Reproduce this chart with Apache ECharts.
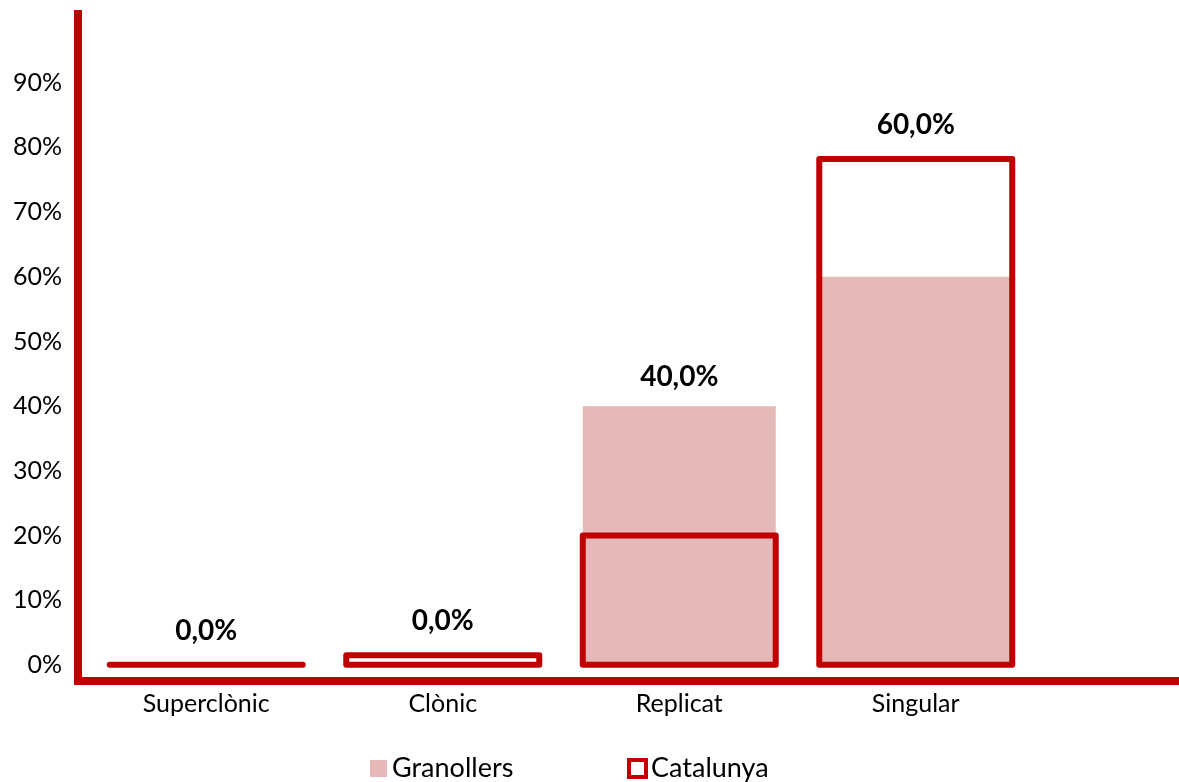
<!DOCTYPE html>
<html>
<head>
<meta charset="utf-8">
<script src="https://cdn.jsdelivr.net/npm/echarts@6/dist/echarts.min.js"></script>
<style>
html,body{margin:0;padding:0;background:#fff;}
#chart{width:1179px;height:782px;}
</style>
</head>
<body>
<div id="chart"></div>
<script>
const categories = ['Superclònic', 'Clònic', 'Replicat', 'Singular'];
const granollers = [0, 0, 40, 60];
const catalunya = [0, 1.5, 20, 78.2];
const yTicks = [0, 10, 20, 30, 40, 50, 60, 70, 80, 90];

const RED = '#C00000';
const PINK = '#E6B8B7';
const FONT = 'Lato';
const BAR_FRACTION = 0.816;

const labelTops = categories.map((c, i) => Math.max(granollers[i], catalunya[i]));
const fmt = v => v.toFixed(1).replace('.', ',') + '%';

const chart = echarts.init(document.getElementById('chart'), null, {renderer: 'canvas'});
chart.setOption({
  animation: false,
  backgroundColor: '#fff',
  textStyle: {fontFamily: FONT},
  grid: [
    {left: 88, right: 145, top: 10, bottom: 101, containLabel: false},
    {left: 74, right: 0, top: 10, bottom: 101, containLabel: false}
  ],
  xAxis: [
    {
      type: 'category', gridIndex: 0, data: categories,
      axisLine: {show: false, onZero: false},
      axisTick: {show: false},
      axisLabel: {fontFamily: FONT, fontSize: 25, color: '#000', margin: 10}
    },
    {
      type: 'value', gridIndex: 1, min: 0, max: 1,
      axisLine: {show: true, onZero: false, lineStyle: {color: RED, width: 8, cap: 'butt'}},
      axisTick: {show: false}, axisLabel: {show: false}, splitLine: {show: false}
    }
  ],
  yAxis: [
    {
      type: 'value', gridIndex: 0, min: -2.5, max: 101.25, interval: 2.5, offset: 10,
      axisLine: {show: true, onZero: false, lineStyle: {color: RED, width: 8, cap: 'butt'}},
      axisTick: {show: false},
      splitLine: {show: false},
      axisLabel: {
        fontFamily: FONT, fontSize: 25, color: '#000', margin: 16,
        showMinLabel: true, showMaxLabel: false,
        formatter: v => (yTicks.indexOf(v) >= 0 ? v + '%' : '')
      }
    },
    {type: 'value', gridIndex: 1, show: false, min: 0, max: 1}
  ],
  legend: [
    {
      left: 365, top: 750, itemWidth: 17, itemHeight: 17, itemGap: 0,
      data: [{name: 'Granollers', icon: 'rect', itemStyle: {color: PINK}}],
      textStyle: {fontFamily: FONT, fontSize: 27, color: '#000', padding: [0, 0, 0, 0]}
    },
    {
      left: 622, top: 750, itemWidth: 17, itemHeight: 17, itemGap: 0,
      data: [{name: 'Catalunya', icon: 'rect', itemStyle: {color: '#fff', borderColor: RED, borderWidth: 4}}],
      textStyle: {fontFamily: FONT, fontSize: 27, color: '#000', padding: [0, 0, 0, 0]}
    }
  ],
  series: [
    {
      name: 'Granollers', type: 'bar', xAxisIndex: 0, yAxisIndex: 0,
      data: granollers, barWidth: 193,
      itemStyle: {color: PINK},
      z: 2
    },
    {
      name: 'Catalunya', type: 'custom', xAxisIndex: 0, yAxisIndex: 0,
      data: catalunya.map((v, i) => [i, v]),
      encode: {x: 0, y: 1},
      itemStyle: {color: RED},
      silent: true,
      renderItem: function (params, api) {
        const i = api.value(0);
        const top = api.coord([i, api.value(1)]);
        const base = api.coord([i, 0]);
        const w = api.size([1, 0])[0] * BAR_FRACTION;
        return {
          type: 'rect',
          shape: {x: top[0] - w / 2, y: top[1], width: w, height: base[1] - top[1]},
          style: {fill: 'none', stroke: RED, lineWidth: 6, lineJoin: 'round'},
          z2: 10
        };
      },
      z: 3
    },
    {
      name: 'labels', type: 'custom', xAxisIndex: 0, yAxisIndex: 0,
      data: labelTops.map((v, i) => [i, v]),
      encode: {x: 0, y: 1},
      silent: true,
      renderItem: function (params, api) {
        const i = api.value(0);
        const p = api.coord([i, api.value(1)]);
        const lift = catalunya[i] >= granollers[i] ? 34 : 29;
        return {
          type: 'text',
          x: p[0], y: p[1] - lift,
          style: {
            text: fmt(granollers[i]),
            fontFamily: FONT, fontSize: 28, fontWeight: 'bold', fill: '#000',
            align: 'center', verticalAlign: 'middle'
          }
        };
      },
      z: 4
    }
  ]
});
</script>
</body>
</html>
